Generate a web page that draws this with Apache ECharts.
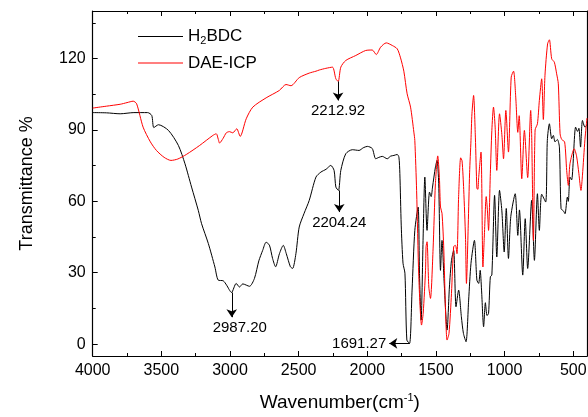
<!DOCTYPE html>
<html>
<head>
<meta charset="utf-8">
<script src="https://cdn.jsdelivr.net/npm/echarts@6/dist/echarts.min.js"></script>
<style>
html, body { margin: 0; padding: 0; background: #fff; }
#chart { width: 588px; height: 417px; }
</style>
</head>
<body>
<div id="chart"></div>
<script>
// H2BDC spectrum
var bdcWn = [4000, 3900, 3800, 3700, 3600, 3570, 3555, 3521, 3448, 3376, 3328, 3280, 3231, 3207, 3158, 3110, 3086, 3049, 3025, 2989,
  2955, 2931, 2907, 2858, 2822, 2790, 2762, 2737, 2713, 2690, 2668, 2640, 2612, 2590, 2560, 2544, 2520, 2496, 2460, 2423,
  2374, 2338, 2300, 2266, 2242, 2229, 2210, 2193, 2157, 2109, 2060, 2030, 2000, 1964, 1939, 1915, 1891, 1855, 1830, 1806,
  1782, 1770, 1763, 1753, 1740, 1726, 1712, 1692, 1674, 1654, 1630, 1620, 1608, 1594, 1581, 1565, 1547, 1535, 1525, 1504,
  1492, 1480, 1467, 1456, 1440, 1419, 1402, 1387, 1371, 1354, 1335, 1315, 1300, 1281, 1262, 1245, 1220, 1202, 1189, 1178,
  1168, 1153, 1140, 1128, 1117, 1104, 1093, 1073, 1057, 1037, 1020, 1003, 988, 972, 955, 923, 904, 892, 868, 850,
  832, 803, 783, 761, 747, 730, 701, 689, 674, 657, 645, 633, 616, 601, 589, 572, 560, 543, 536, 524,
  512, 483, 469, 459, 447, 433, 415, 400];
var bdcT = [97.3, 97.2, 96.8, 97.3, 97.3, 96.1, 91.0, 92.2, 89.8, 83.5, 75.8, 66.0, 56.2, 50.6, 42.3, 32.4, 26.9, 26.6, 24.8, 21.7,
  25.5, 24.0, 25.3, 24.3, 27.6, 35.0, 39.4, 42.8, 41.6, 36.0, 32.5, 38.0, 41.5, 38.0, 32.5, 31.8, 38.0, 49.2, 55.0, 60.4,
  70.2, 72.3, 73.5, 75.1, 73.0, 66.0, 64.6, 73.0, 80.0, 81.7, 81.4, 82.5, 83.1, 82.2, 77.9, 78.5, 78.9, 77.9, 79.0, 79.3,
  79.7, 78.6, 71.7, 50.0, 34.0, 29.8, 1.7, 0.3, 22.7, 47.8, 57.6, 29.7, 10.1, 43.6, 70.2, 47.8, 63.9, 62.0, 66.0, 74.4,
  77.2, 67.4, 31.0, 43.6, 25.5, 5.9, 24.0, 35.2, 39.4, 15.7, 22.7, 11.5, 4.5, 1.0, 18.5, 33.9, 43.6, 26.9, 25.5, 31.0,
  22.7, 7.3, 17.4, 12.0, 12.9, 28.3, 29.0, 62.5, 36.6, 64.6, 56.0, 38.7, 57.0, 36.0, 53.6, 63.2, 45.7, 56.4, 29.0, 52.7,
  31.8, 60.4, 35.2, 63.2, 47.8, 63.0, 59.7, 85.6, 92.6, 86.3, 87.7, 85.0, 86.0, 82.8, 56.9, 56.0, 54.8, 61.8, 60.0, 70.2,
  69.0, 91.2, 89.4, 90.7, 82.8, 94.0, 91.2, 92.0];

// DAE-ICP spectrum
var icpWn = [4000, 3900, 3800, 3750, 3705, 3680, 3633, 3580, 3536, 3480, 3430, 3380, 3318, 3221, 3125, 3100, 3085, 3076, 3050, 3027,
  3004, 2980, 2951, 2926, 2882, 2834, 2737, 2641, 2592, 2556, 2496, 2423, 2374, 2350, 2302, 2254, 2229, 2212, 2193, 2157,
  2084, 2012, 1964, 1935, 1903, 1862, 1818, 1782, 1758, 1734, 1710, 1685, 1661, 1654, 1641, 1625, 1605, 1593, 1576, 1572,
  1565, 1552, 1540, 1521, 1504, 1487, 1475, 1467, 1456, 1443, 1431, 1419, 1405, 1387, 1371, 1358, 1347, 1335, 1320, 1310,
  1298, 1285, 1278, 1265, 1255, 1245, 1238, 1226, 1213, 1202, 1195, 1189, 1172, 1158, 1148, 1134, 1125, 1117, 1104, 1093,
  1081, 1069, 1057, 1037, 1020, 1008, 991, 972, 952, 935, 919, 904, 894, 875, 856, 832, 810, 803, 790, 778,
  761, 747, 730, 718, 706, 687, 674, 657, 638, 621, 609, 596, 584, 563, 548, 536, 524, 493, 476, 459,
  444, 433, 415, 400];
var icpT = [99.2, 100.0, 100.8, 101.5, 102.1, 101.0, 91.2, 85.0, 81.4, 78.5, 77.2, 77.8, 79.7, 83.5, 87.7, 88.4, 86.0, 84.5, 86.5, 88.8,
  89.3, 88.8, 90.5, 87.3, 94.7, 99.6, 103.5, 106.6, 109.1, 108.6, 112.0, 113.9, 114.7, 115.2, 115.9, 116.4, 111.5, 110.4, 116.4, 119.2,
  121.3, 123.4, 123.6, 121.7, 124.8, 126.6, 125.5, 124.1, 120.3, 114.7, 105.2, 99.6, 89.1, 85.6, 64.6, 28.3, 8.0, 13.0, 31.0, 41.0,
  43.0, 24.0, 19.2, 40.0, 67.4, 79.1, 70.0, 57.6, 55.0, 40.0, 15.0, 1.7, 4.5, 21.3, 41.0, 41.5, 38.0, 62.0, 78.3, 77.0,
  65.0, 45.0, 25.5, 50.0, 72.0, 85.6, 96.8, 104.5, 87.0, 65.5, 65.0, 70.0, 80.7, 32.4, 45.0, 62.0, 56.0, 47.8, 71.6, 89.8,
  99.6, 91.2, 73.0, 96.8, 88.0, 77.9, 98.2, 80.7, 112.2, 114.7, 103.8, 89.0, 96.0, 69.5, 89.8, 70.0, 98.2, 88.0, 43.6, 90.0,
  92.6, 102.4, 111.5, 94.4, 113.0, 126.2, 127.9, 119.9, 118.5, 113.6, 109.4, 88.4, 86.0, 85.0, 73.0, 66.7, 75.8, 82.1, 79.0, 71.6,
  64.6, 71.0, 86.0, 95.0];

var xMajor = [500, 1000, 1500, 2000, 2500, 3000, 3500, 4000];
var xMinor = [750, 1250, 1750, 2250, 2750, 3250, 3750];
var yMajor = [0, 30, 60, 90, 120];
var yMinor = [15, 45, 75, 105, 135];

// marked peaks: [wavenumber, value at peak, arrow tip value, label shift]
var bdcPeaks = [[2987.20, 21.7, 11.3, 16], [2204.24, 64.6, 55.5, 0]];
var bdcSidePeak = [1691.27, 0.3, 1840];
var icpPeaks = [[2212.92, 110.4, 102.4, 0]];

function zip(xs, ys) {
    var out = [];
    for (var i = 0; i < xs.length; i++) out.push([xs[i], ys[i]]);
    return out;
}

function downArrow(p) {
    return [
        { coord: [p[0], p[1]], label: { formatter: p[0].toFixed(2), padding: [0, 0, 0, p[3]] } },
        { coord: [p[0], p[2]] }
    ];
}

var font = 'Liberation Sans, Arial, sans-serif';
var chart = echarts.init(document.getElementById('chart'));

var markBase = {
    silent: true,
    animation: false,
    symbol: ['none', 'arrow'],
    symbolSize: 8,
    lineStyle: { color: '#000', width: 1, type: 'solid' },
    label: { show: true, position: 'end', color: '#000', fontSize: 15, fontFamily: font, distance: 3 },
    emphasis: { disabled: true }
};

var bdcMarks = echarts.util.merge({
    data: bdcPeaks.map(downArrow).concat([[
        { coord: [bdcSidePeak[0], bdcSidePeak[1]], label: { formatter: bdcSidePeak[0].toFixed(2) } },
        { coord: [bdcSidePeak[2], bdcSidePeak[1]] }
    ]])
}, markBase);

var icpMarks = echarts.util.merge({
    data: icpPeaks.map(downArrow)
}, markBase);

function plain(v) { return String(v); }

function xAx(grid, pos, ticks, len, main) {
    return {
        type: 'value', gridIndex: grid, position: pos, inverse: true,
        min: 400, max: 4000,
        axisLine: { show: main, onZero: false, lineStyle: { color: '#000', width: 1.2 } },
        axisTick: { show: true, inside: true, length: len, customValues: ticks, lineStyle: { color: '#000', width: 1 } },
        axisLabel: { show: main && pos === 'bottom', customValues: xMajor, formatter: plain, color: '#000', fontSize: 16, fontFamily: font, margin: 7 },
        splitLine: { show: false }
    };
}

function yAx(grid, pos, ticks, len, main) {
    return {
        type: 'value', gridIndex: grid, position: pos,
        min: -5, max: 140,
        axisLine: { show: main, onZero: false, lineStyle: { color: '#000', width: 1.2 } },
        axisTick: { show: pos === 'left', inside: true, length: len, customValues: ticks, lineStyle: { color: '#000', width: 1 } },
        axisLabel: { show: main && pos === 'left', customValues: yMajor, formatter: plain, color: '#000', fontSize: 16, fontFamily: font, margin: 7 },
        splitLine: { show: false }
    };
}

var xMain = xAx(0, 'bottom', xMajor, 5, true);
xMain.name = '{a|Wavenumber(cm}{b|-1}{a|)}';
xMain.nameLocation = 'middle';
xMain.nameGap = 36;
xMain.nameTextStyle = {
    color: '#000',
    rich: {
        a: { fontSize: 19, fontFamily: font, color: '#000', lineHeight: 22 },
        b: { fontSize: 11, fontFamily: font, color: '#000', verticalAlign: 'top', lineHeight: 12 }
    }
};

var yMain = yAx(0, 'left', yMajor, 5, true);
yMain.name = 'Transmittance %';
yMain.nameLocation = 'middle';
yMain.nameGap = 57;
yMain.nameTextStyle = { color: '#000', fontSize: 18, fontFamily: font };

var gridBox = { left: 92.7, right: 1, top: 11, bottom: 61, containLabel: false, outerBoundsMode: 'none' };

var option = {
    animation: false,
    backgroundColor: '#fff',
    grid: [echarts.util.clone(gridBox), echarts.util.clone(gridBox)],
    legend: {
        orient: 'vertical',
        left: 133,
        top: 23,
        icon: 'rect',
        itemWidth: 45,
        itemHeight: 1.2,
        itemGap: 8,
        data: ['H2BDC', 'DAE-ICP'],
        formatter: function (name) {
            return name === 'H2BDC' ? '{a|H}{b|2}{a|BDC}' : '{a|DAE-ICP}';
        },
        textStyle: {
            color: '#000',
            rich: {
                a: { fontSize: 17, fontFamily: font, color: '#000', lineHeight: 20 },
                b: { fontSize: 11, fontFamily: font, color: '#000', verticalAlign: 'bottom', lineHeight: 10 }
            }
        }
    },
    xAxis: [
        xMain,
        xAx(0, 'top', xMajor, 5, true),
        xAx(1, 'bottom', xMinor, 3, false),
        xAx(1, 'top', xMinor, 3, false)
    ],
    yAxis: [
        yMain,
        yAx(0, 'right', yMajor, 5, true),
        yAx(1, 'left', yMinor, 3, false),
        yAx(1, 'right', yMinor, 3, false)
    ],
    series: [
        {
            name: 'H2BDC', type: 'line', xAxisIndex: 0, yAxisIndex: 0,
            data: zip(bdcWn, bdcT),
            symbol: 'none', smooth: 0.25,
            lineStyle: { color: '#000', width: 1 }, itemStyle: { color: '#000' },
            markLine: bdcMarks
        },
        {
            name: 'DAE-ICP', type: 'line', xAxisIndex: 0, yAxisIndex: 0,
            data: zip(icpWn, icpT),
            symbol: 'none', smooth: 0.25,
            lineStyle: { color: '#ff0000', width: 1 }, itemStyle: { color: '#ff0000' },
            markLine: icpMarks
        }
    ]
};

chart.setOption(option);
</script>
</body>
</html>
